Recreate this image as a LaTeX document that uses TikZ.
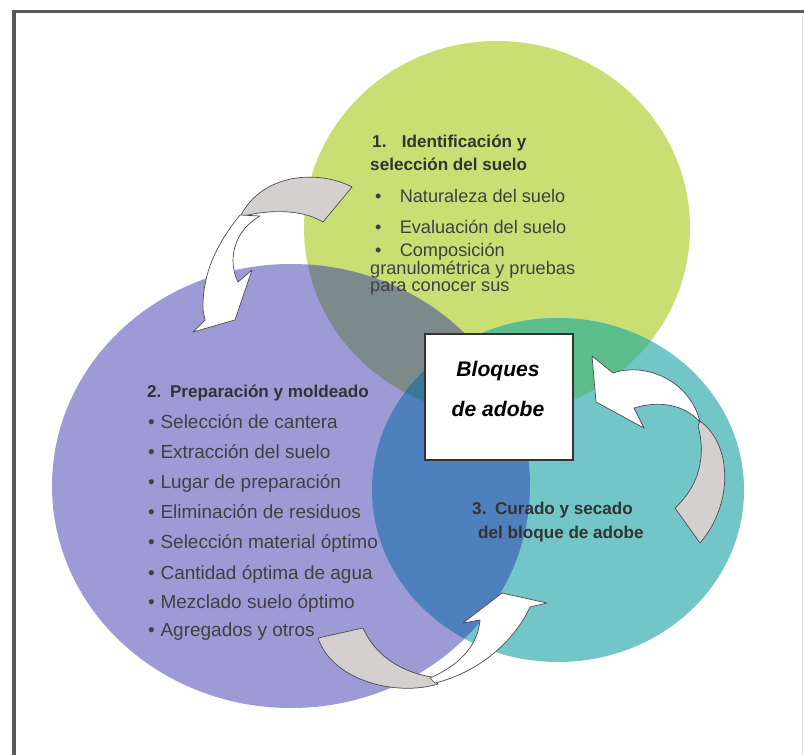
\documentclass[tikz,border=0pt]{standalone}
\usepackage{fontspec}
\setmainfont{Liberation Sans}
\usetikzlibrary{positioning}

\definecolor{soilgreen}{HTML}{C9DF74}
\definecolor{mouldblue}{HTML}{9D9BD6}
\definecolor{curecyan}{HTML}{73C6C8}
\definecolor{soilmould}{HTML}{7D8A8C}
\definecolor{mouldcure}{HTML}{4E80BE}
\definecolor{soilcure}{HTML}{5CBE8C}
\definecolor{allthree}{HTML}{3C7896}
\definecolor{backgray}{HTML}{D4D0D0}

\begin{document}
\begin{tikzpicture}[
  x=0.3mm, y=-0.3mm,
  soil/.style={insert path={(497,228) ellipse [x radius=193, y radius=187]}},
  mould/.style={insert path={(291,486) ellipse [x radius=239, y radius=222]}},
  cure/.style={insert path={(558,490) ellipse [x radius=186, y radius=172]}},
  head/.style={anchor=base west, inner sep=0pt, text=black!80, font=\fontsize{14.6}{17}\selectfont\bfseries},
  item/.style={anchor=base west, inner sep=0pt, text=black!75, font=\fontsize{15.5}{18}\selectfont},
  bigitem/.style={item, font=\fontsize{16.2}{19}\selectfont},
  band/.style={draw=black!70, line width=0.6pt, line join=round},
  frame/.style={draw=black!65, line width=2.6pt}
]
  \useasboundingbox[fill=white] (0,0) rectangle (804,755);

  % picture frame
  \draw[frame] (14,760) -- (14,11.5) -- (810,11.5);
  \draw[black!12, line width=0.8pt] (802,14) -- (802,755);

  % the three stages
  \fill[soilgreen, soil];
  \fill[mouldblue, mould];
  \fill[curecyan, cure];

  % overlaps
  \begin{scope}
    \clip[soil];
    \fill[soilmould, mould];
    \fill[soilcure, cure];
  \end{scope}
  \begin{scope}
    \clip[mould];
    \fill[mouldcure, cure];
  \end{scope}
  \begin{scope}
    \clip[soil];
    \clip[mould];
    \fill[allthree, cure];
  \end{scope}

  % arrow: soil -> moulding
  \filldraw[band, fill=backgray] (352,187) .. controls (320,170) and (262,172) .. (240,217)
    .. controls (265,210) and (300,208) .. (323,222) -- cycle;
  \filldraw[band, fill=white] (240,215) .. controls (220,240) and (202,270) .. (203,310)
    -- (205,320) -- (193,332) -- (235,320) -- (252,270) -- (238,282)
    .. controls (228,262) and (232,232) .. (260,216) -- cycle;

  % arrow: moulding -> curing
  \filldraw[band, fill=backgray] (318,638) .. controls (332,680) and (395,697) .. (438,684)
    -- (432,677) .. controls (400,672) and (375,655) .. (363,628) -- cycle;
  \filldraw[band, fill=white] (435,683) .. controls (480,672) and (515,640) .. (530,607)
    -- (547,603) -- (502,593) -- (463,623) -- (480,620)
    .. controls (478,645) and (460,665) .. (430,678) -- cycle;

  % arrow: curing -> soil
  \filldraw[band, fill=backgray] (700,543) .. controls (733,505) and (733,445) .. (700,421)
    -- (698,426) .. controls (706,455) and (700,485) .. (675,508) -- cycle;
  \filldraw[band, fill=white] (700,422) .. controls (690,380) and (645,362) .. (613,373)
    -- (592,356) -- (596,402) -- (644,428) -- (634,408)
    .. controls (660,400) and (685,405) .. (700,422) -- cycle;

  % centre
  \node[draw=black!80, line width=1pt, fill=white, minimum width=44.4mm, minimum height=37.8mm]
    (adobe) at (499,397) {};
  \node[align=center, font=\fontsize{18}{34}\selectfont\bfseries\itshape] (adobeText) at (498,389)
    {Bloques\\de adobe};

  % 1. soil
  \node[head] (soilA) at (372,148) {1.\hspace{0.9em}Identificación y};
  \node[head] (soilB) at (370,171) {selección del suelo};
  \node[item] (soilC) at (375,203) {•\hspace{1em}Naturaleza del suelo};
  \node[item] (soilD) at (375,233) {•\hspace{1em}Evaluación del suelo};
  \node[item] (soilE) at (375,256) {•\hspace{1em}Composición};
  \node[item] (soilF) at (370,274) {granulométrica y pruebas};
  \node[item] (soilG) at (370,291) {para conocer sus};

  % 2. moulding
  \node[head] (mouldA) at (147,397) {2.\hspace{0.5em}Preparación y moldeado};
  \node[bigitem] (mouldB) at (148,428) {•\hspace{0.3em}Selección de cantera};
  \node[bigitem] (mouldC) at (148,458) {•\hspace{0.3em}Extracción del suelo};
  \node[bigitem] (mouldD) at (148,488) {•\hspace{0.3em}Lugar de preparación};
  \node[bigitem] (mouldE) at (148,518) {•\hspace{0.3em}Eliminación de residuos};
  \node[bigitem] (mouldF) at (148,548) {•\hspace{0.3em}Selección material óptimo};
  \node[bigitem] (mouldG) at (148,579) {•\hspace{0.3em}Cantidad óptima de agua};
  \node[bigitem] (mouldH) at (148,608) {•\hspace{0.3em}Mezclado suelo óptimo};
  \node[bigitem] (mouldI) at (148,636) {•\hspace{0.3em}Agregados y otros};

  % 3. curing
  \node[head] (cureA) at (472,514) {3.\hspace{0.5em}Curado y secado};
  \node[head] (cureB) at (478,538) {del bloque de adobe};
\end{tikzpicture}
\end{document}
